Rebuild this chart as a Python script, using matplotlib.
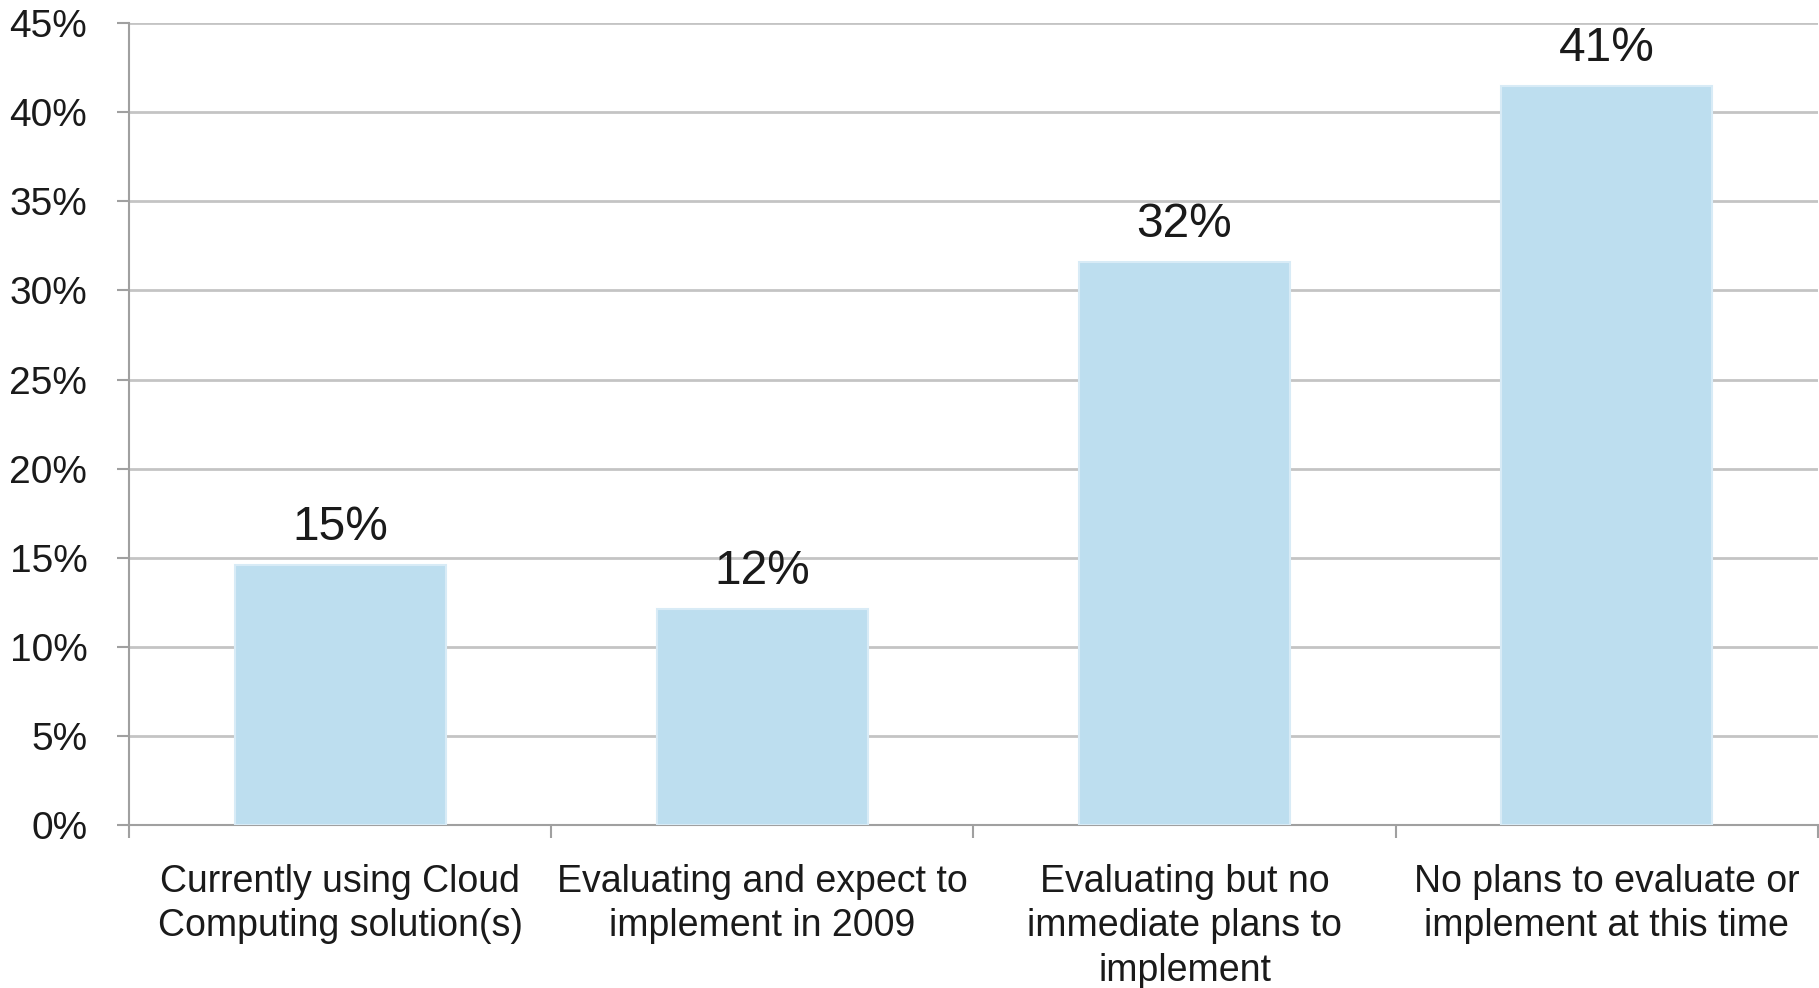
import numpy as np
import matplotlib.pyplot as plt
from matplotlib.ticker import MultipleLocator, FixedLocator

plt.rcParams['font.family'] = ['Liberation Sans', 'DejaVu Sans']

# Survey answers and shares (percent)
categories = [
    "Currently using Cloud\nComputing solution(s)",
    "Evaluating and expect to\nimplement in 2009",
    "Evaluating but no\nimmediate plans to\nimplement",
    "No plans to evaluate or\nimplement at this time",
]
values = [14.6, 12.1, 31.6, 41.5]
value_labels = ["15%", "12%", "32%", "41%"]

fig = plt.figure(figsize=(18.19, 9.88), dpi=100)
ax = fig.add_axes([0.0709, 0.165, 0.9285, 0.8115])

x = np.arange(len(categories))
bars = ax.bar(x, values, width=0.5, color='#BDDEEF', edgecolor='#D8EBF6',
              linewidth=1.5, zorder=3)

# value labels above bars
for b, lab in zip(bars, value_labels):
    ax.annotate(lab, (b.get_x() + b.get_width() / 2, b.get_height()),
                xytext=(0, 18), textcoords='offset points',
                ha='center', va='baseline', fontsize=34.5, color='#1a1a1a')

ax.set_xlim(-0.5, len(categories) - 0.5)
ax.set_ylim(0, 45)
ax.yaxis.set_major_locator(MultipleLocator(5))
ax.set_yticklabels([f"{int(t)}%" for t in ax.get_yticks()])
ax.grid(axis='y', color='#C4C4C4', linewidth=2, zorder=0)

ax.set_xticks(x)
ax.set_xticklabels(categories, fontsize=27, linespacing=1.3)
ax.xaxis.set_minor_locator(FixedLocator(np.arange(-0.5, len(categories), 1.0)))
ax.tick_params(axis='x', which='major', length=0, pad=28, colors='#1a1a1a')
ax.tick_params(axis='x', which='minor', length=9, width=1.5, color='#A0A0A0')
ax.tick_params(axis='y', length=9, width=1.5, color='#A0A0A0', labelsize=28,
               labelcolor='#1a1a1a', pad=21)

for s in ['top', 'right']:
    ax.spines[s].set_visible(False)
ax.spines['left'].set_color('#A0A0A0')
ax.spines['left'].set_linewidth(1.5)
ax.spines['bottom'].set_color('#A0A0A0')
ax.spines['bottom'].set_linewidth(1.5)

fig.savefig('out.png', dpi=100)
